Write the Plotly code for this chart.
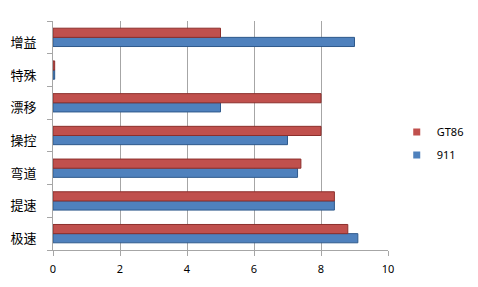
import plotly.graph_objects as go

categories = ["极速", "提速", "弯道", "操控", "漂移", "特殊", "增益"]
gt86 = [8.8, 8.4, 7.4, 8.0, 8.0, 0.05, 5.0]
p911 = [9.1, 8.4, 7.3, 7.0, 5.0, 0.05, 9.0]
x_ticks = [0, 2, 4, 6, 8, 10]

RED = "#C0504D"
BLUE = "#4F81BD"

fig = go.Figure()
fig.add_trace(go.Bar(y=categories, x=p911, name="911", orientation="h", showlegend=False,
                     marker=dict(color=BLUE, line=dict(color="#2F5A8C", width=1))))
fig.add_trace(go.Bar(y=categories, x=gt86, name="GT86", orientation="h", showlegend=False,
                     marker=dict(color=RED, line=dict(color="#8C2F2C", width=1))))
# legend entries with small square keys
fig.add_trace(go.Scatter(x=[None], y=[None], mode="markers", name="GT86", legendgroup="a",
                         marker=dict(symbol="square", size=7, color=RED)))
fig.add_trace(go.Scatter(x=[None], y=[None], mode="markers", name="911", legendgroup="b",
                         marker=dict(symbol="square", size=7, color=BLUE)))

fig.update_layout(
    width=478, height=287,
    margin=dict(l=53, r=90, t=21, b=37, autoexpand=False),
    paper_bgcolor="white", plot_bgcolor="white",
    barmode="group", bargap=0.44, bargroupgap=0,
    font=dict(family="Noto Sans, Noto Sans CJK SC", size=11, color="black"),
    legend=dict(xref="container", yref="container", x=0.83, y=0.5,
                xanchor="left", yanchor="middle",
                traceorder="grouped", font=dict(size=11),
                itemwidth=30, tracegroupgap=4, bgcolor="rgba(0,0,0,0)"),
    showlegend=True,
)
fig.update_xaxes(range=[0, 10], tickvals=x_ticks, showgrid=True, gridcolor="#A6A6A6",
                 gridwidth=1, showline=True, linecolor="#A6A6A6", ticks="outside",
                 tickcolor="#A6A6A6", ticklen=5, zeroline=False, ticklabelstandoff=4,
                 tickfont=dict(size=11, family="Noto Sans"))
fig.update_yaxes(showline=True, linecolor="#A6A6A6", ticks="outside", tickcolor="#A6A6A6",
                 ticklen=5, showgrid=False, tickson="boundaries", ticklabelstandoff=13,
                 tickfont=dict(size=13, family="Noto Sans CJK SC"), ticklabelshift=5)

fig.write_html("out.html")
